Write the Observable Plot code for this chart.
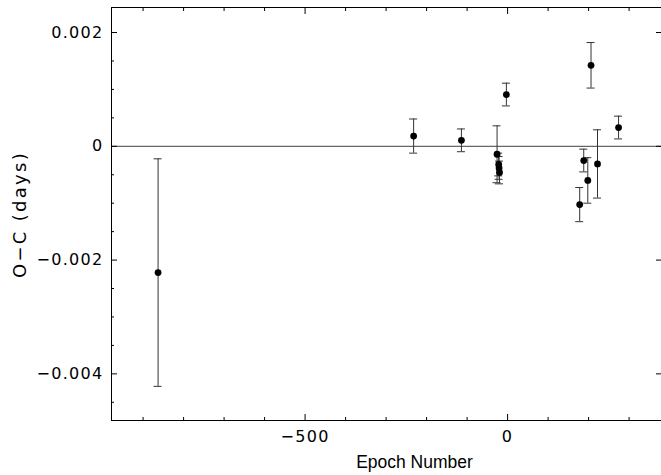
<!DOCTYPE html>
<html>
<head>
<meta charset="utf-8">
<script src="https://cdn.jsdelivr.net/npm/d3@7"></script>
<script src="https://cdn.jsdelivr.net/npm/@observablehq/plot@0.6"></script>
<style>
  html, body { margin: 0; padding: 0; background: #fff; }
</style>
</head>
<body>
<div id="chart"></div>
<script>
const epochs = [-863, -232, -114, -26, -22, -21, -20, -3, 178, 188, 198, 206, 222, 274];
const ocValues = [-0.00222, 0.00018, 0.000105, -0.00014, -0.00032, -0.00038, -0.00046, 0.00091, -0.001025, -0.00025, -0.0006, 0.001424, -0.00031, 0.00033];
const ocErrors = [0.0020, 0.0003, 0.0002, 0.0005, 0.0002, 0.0002, 0.0002, 0.0002, 0.0003, 0.0002, 0.0004, 0.0004, 0.0006, 0.0002];

const xMajorTicks = [-500, 0];
const xMinorTicks = [-900, -800, -700, -600, -400, -300, -200, -100, 100, 200, 300];
const yMajorTicks = [-0.004, -0.002, 0, 0.002];
const yMinorTicks = [-0.0045, -0.0035, -0.003, -0.0025, -0.0015, -0.001, -0.0005, 0.0005, 0.001, 0.0015];

const xLabel = "Epoch Number";
const yLabel = "O−C (days)";

const data = epochs.map((e, i) => ({epoch: e, oc: ocValues[i], err: ocErrors[i]}));
const fmt = d => String(d).replace("-", "−");
const blank = () => "";

const chart = Plot.plot({
  width: 661,
  height: 475,
  marginLeft: 111,
  marginRight: 0,
  marginTop: 7,
  marginBottom: 55,
  style: {fontFamily: "DejaVu Sans", fontSize: "16px", color: "#000", background: "#fff"},
  x: {domain: [-978, 380]},
  y: {domain: [-0.00482, 0.00244]},
  marks: [
    Plot.ruleY([0], {stroke: "#666", strokeWidth: 1.3}),
    Plot.ruleX(data, {x: "epoch", y1: d => d.oc - d.err, y2: d => d.oc + d.err, stroke: "#333", strokeWidth: 1}),
    Plot.ruleY(data, {y: d => d.oc + d.err, x1: "epoch", x2: "epoch", insetLeft: -4, insetRight: -4, stroke: "#333", strokeWidth: 1}),
    Plot.ruleY(data, {y: d => d.oc - d.err, x1: "epoch", x2: "epoch", insetLeft: -4, insetRight: -4, stroke: "#333", strokeWidth: 1}),
    Plot.dot(data, {x: "epoch", y: "oc", r: 3.4, fill: "#000", stroke: null}),
    Plot.frame({anchor: "left", stroke: "#000"}),
    Plot.frame({anchor: "top", stroke: "#000"}),
    Plot.frame({anchor: "bottom", stroke: "#000"}),
    Plot.axisX({anchor: "bottom", ticks: xMajorTicks, tickSize: -6, tickPadding: 16, tickFormat: fmt, label: null}),
    Plot.axisX({anchor: "bottom", ticks: xMinorTicks, tickSize: -3, tickFormat: blank, label: null}),
    Plot.axisX({anchor: "top", ticks: xMajorTicks, tickSize: -6, tickFormat: blank, label: null}),
    Plot.axisX({anchor: "top", ticks: xMinorTicks, tickSize: -3, tickFormat: blank, label: null}),
    Plot.axisY({anchor: "left", ticks: yMajorTicks, tickSize: -6, tickPadding: 14, tickFormat: fmt, label: null}),
    Plot.axisY({anchor: "left", ticks: yMinorTicks, tickSize: -3, tickFormat: blank, label: null}),
    Plot.axisY({anchor: "right", ticks: yMajorTicks, tickSize: -6, tickFormat: blank, label: null}),
    Plot.text([xLabel], {frameAnchor: "bottom", textAnchor: "middle", dx: 28, dy: 42, fontFamily: "Liberation Sans", fontSize: 17.5, lineAnchor: "middle"}),
    Plot.text([yLabel], {frameAnchor: "left", textAnchor: "middle", rotate: -90, dx: -91, dy: 0.5, fontSize: 18, lineAnchor: "middle"})
  ]
});
// letter spacing for tick labels and the y label, matching the reference's wide type
d3.select(chart).selectAll("text").each(function() {
  const t = this.textContent;
  if (t === yLabel) this.style.letterSpacing = "2.3px";
  else if (t !== xLabel) this.style.letterSpacing = "1.3px";
});
document.getElementById("chart").appendChild(chart);
</script>
</body>
</html>
